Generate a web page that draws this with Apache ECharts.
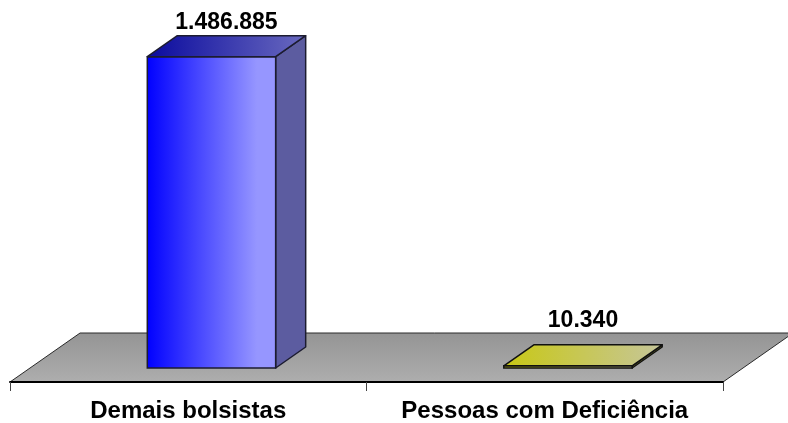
<!DOCTYPE html>
<html><head><meta charset="utf-8">
<script src="https://cdn.jsdelivr.net/npm/echarts@6/dist/echarts.min.js"></script>
<style>html,body{margin:0;padding:0;background:#fff}#c{width:788px;height:423px}</style>
</head><body><div id="c"></div>
<script>
const categories = ['Demais bolsistas', 'Pessoas com Deficiência'];
const values = [1486885, 10340];
const valueLabels = ['1.486.885', '10.340'];

const FONT = "'Liberation Sans', Arial, Helvetica, sans-serif";
const FLOOR_DEPTH = 49, SLANT = 1.43, BAR_FRONT = 14, BAR_BACK = 35;
const BAR_OFF = -0.171, BAR_W = 0.36;
const G = echarts.graphic;
const styles = [
  {
    front: new G.LinearGradient(0, 0, 1, 0, [{offset: 0, color: '#0000ff'}, {offset: 0.85, color: '#9696ff'}, {offset: 1, color: '#9696ff'}]),
    side: '#5c5ca0',
    top: new G.LinearGradient(0, 0, 1, 0, [{offset: 0, color: '#0a0a9e'}, {offset: 1, color: '#6a6abf'}]),
    stroke: '#1c1c30'
  },
  {
    front: new G.LinearGradient(0, 0, 1, 0, [{offset: 0, color: '#c6c610'}, {offset: 1, color: '#c6c694'}]),
    side: '#8a8a20',
    top: new G.LinearGradient(0, 0, 1, 0, [{offset: 0, color: '#c8c814'}, {offset: 1, color: '#c6c69a'}]),
    stroke: '#111111'
  }
];

function renderFloor(params, api) {
  const cs = params.coordSys;
  const L = cs.x, R = cs.x + cs.width, B = cs.y + cs.height;
  const dx = FLOOR_DEPTH * SLANT;
  return {
    type: 'polygon',
    shape: {points: [[L, B], [R, B], [R + dx, B - FLOOR_DEPTH], [L + dx, B - FLOOR_DEPTH]]},
    style: {
      fill: new G.LinearGradient(0, 0, 0, 1, [{offset: 0, color: '#949494'}, {offset: 1, color: '#aeaeae'}]),
      stroke: '#2a2a2a', lineWidth: 1
    },
    z2: 0
  };
}

function renderBar(params, api) {
  const i = api.value(0), v = api.value(1);
  const cs = params.coordSys;
  const base = api.coord([i, 0]);
  const topP = api.coord([i, v]);
  const h = Math.max(base[1] - topP[1], 0);
  const band = api.size([1, 0])[0];
  const w = BAR_W * band;
  const x0 = base[0] + BAR_FRONT * SLANT + BAR_OFF * band;
  const yfb = base[1] - BAR_FRONT;
  const yft = yfb - h;
  const dy = BAR_BACK - BAR_FRONT, dx = dy * SLANT;
  const st = styles[i];
  const floorBack = cs.y + cs.height - FLOOR_DEPTH;
  const lx = x0 + w / 2 + dx / 2;
  const ly = Math.min(yft - dy / 2 - 24, floorBack - 12);
  return {
    type: 'group',
    children: [
      {type: 'polygon', shape: {points: [[x0 + w, yfb], [x0 + w + dx, yfb - dy], [x0 + w + dx, yft - dy], [x0 + w, yft]]},
       style: {fill: st.side, stroke: st.stroke, lineWidth: 1.5, lineJoin: 'round'}},
      {type: 'rect', shape: {x: x0, y: yft, width: w, height: h},
       style: {fill: st.front, stroke: st.stroke, lineWidth: 1.5}},
      {type: 'polygon', shape: {points: [[x0, yft], [x0 + dx, yft - dy], [x0 + w + dx, yft - dy], [x0 + w, yft]]},
       style: {fill: st.top, stroke: st.stroke, lineWidth: 1.5, lineJoin: 'round'}},
      {type: 'text', x: lx, y: ly,
       style: {text: valueLabels[i], fill: '#000', font: 'bold 23px ' + FONT, align: 'center', verticalAlign: 'middle'}}
    ]
  };
}

const chart = echarts.init(document.getElementById('c'), null, {renderer: 'canvas'});
chart.setOption({
  animation: false,
  backgroundColor: '#ffffff',
  grid: {left: 10, right: 65, top: 47, bottom: 40, containLabel: false},
  xAxis: {
    type: 'category', data: categories, z: 10,
    axisLine: {show: true, lineStyle: {color: '#000', width: 2}},
    axisTick: {show: true, length: 9, interval: 0, lineStyle: {color: '#444', width: 1}},
    axisLabel: {color: '#000', fontWeight: 'bold', fontSize: 24, fontFamily: FONT, margin: 17, interval: 0, hideOverlap: false}
  },
  yAxis: {
    type: 'value', min: 0, max: 1600000, show: false,
    splitLine: {show: false}
  },
  series: [
    {type: 'custom', name: 'floor', renderItem: renderFloor, data: [[0]], z: 1, silent: true},
    {type: 'custom', name: 'valores', renderItem: renderBar, z: 2,
     data: values.map((v, i) => [i, v])}
  ]
});
</script></body></html>
